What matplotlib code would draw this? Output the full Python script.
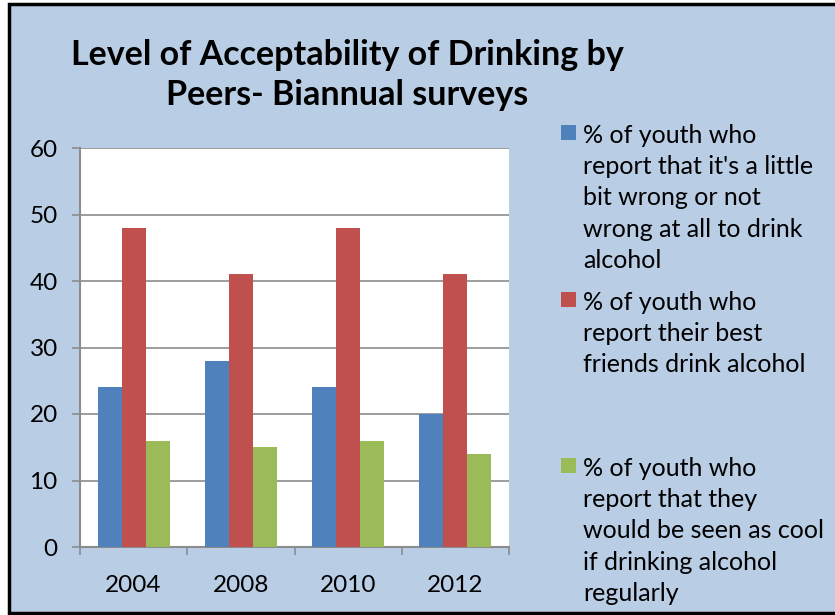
import numpy as np
import matplotlib.pyplot as plt
from matplotlib.patches import Rectangle

plt.rcParams['font.family'] = ['Lato', 'DejaVu Sans']

# Datos
years = ['2004', '2008', '2010', '2012']
wrong = [24, 28, 24, 20]
friends = [48, 41, 48, 41]
cool = [16, 15, 16, 14]
series = [wrong, friends, cool]
labels = ["% of youth who\nreport that it's a little\nbit wrong or not\nwrong at all to drink\nalcohol",
          "% of youth who\nreport their best\nfriends drink alcohol",
          "% of youth who\nreport that they\nwould be seen as cool\nif drinking alcohol\nregularly"]
colors = ['#4F81BD', '#C0504D', '#9BBB59']
yticks = [0, 10, 20, 30, 40, 50, 60]

bg = '#B9CDE5'
grid = '#8C8C8C'

fig = plt.figure(figsize=(8.35, 6.15), dpi=100, facecolor='white')
# marco negro del grafico
fig.patches.append(Rectangle((9/835, 2/615), 1.0, 609/615, transform=fig.transFigure,
                             facecolor=bg, edgecolor='black', lw=2.5, zorder=-10))

ax = fig.add_axes([80/835, 1 - 547/615, 429/835, 399/615])
ax.set_facecolor('white')

x = np.arange(len(years))
w = 0.224
for i, s in enumerate(series):
    ax.bar(x + (i - 1)*w, s, w, color=colors[i], zorder=3)

ax.set_xlim(-0.5, len(years) - 0.5)
ax.set_ylim(0, 60)
ax.set_yticks(yticks)
ax.set_yticklabels([str(v) for v in yticks], fontsize=17.5)
ax.yaxis.grid(True, color=grid, lw=1.2, zorder=0)
ax.tick_params(axis='y', length=6, width=1.2, color=grid, pad=10)

ax.set_xticks(np.arange(len(years) + 1) - 0.5)
ax.set_xticklabels([])
ax.set_xticks(x, minor=True)
ax.set_xticklabels(years, minor=True, fontsize=17.5)
ax.tick_params(axis='x', which='major', length=6, width=1.2, color=grid, direction='out')
ax.tick_params(axis='x', which='minor', length=0, pad=20)

for sp in ['top', 'right']:
    ax.spines[sp].set_visible(False)
for sp in ['left', 'bottom']:
    ax.spines[sp].set_color(grid)
    ax.spines[sp].set_linewidth(1.5)

fig.text(347/835, 1 - 75/615, 'Level of Acceptability of Drinking by\nPeers- Biannual surveys',
         ha='center', va='center', fontsize=24.5, fontweight='bold', linespacing=1.33)

# leyenda a mano
tops = [124, 291, 457]
for i, lab in enumerate(labels):
    fig.patches.append(Rectangle((561/835, 1 - (tops[i] + 16)/615), 15/835, 15/615,
                                 transform=fig.transFigure, facecolor=colors[i], edgecolor='none'))
    fig.text(583/835, 1 - tops[i]/615, lab, ha='left', va='top', fontsize=18, linespacing=1.43)

plt.savefig('out.png', dpi=100, facecolor=fig.get_facecolor())
